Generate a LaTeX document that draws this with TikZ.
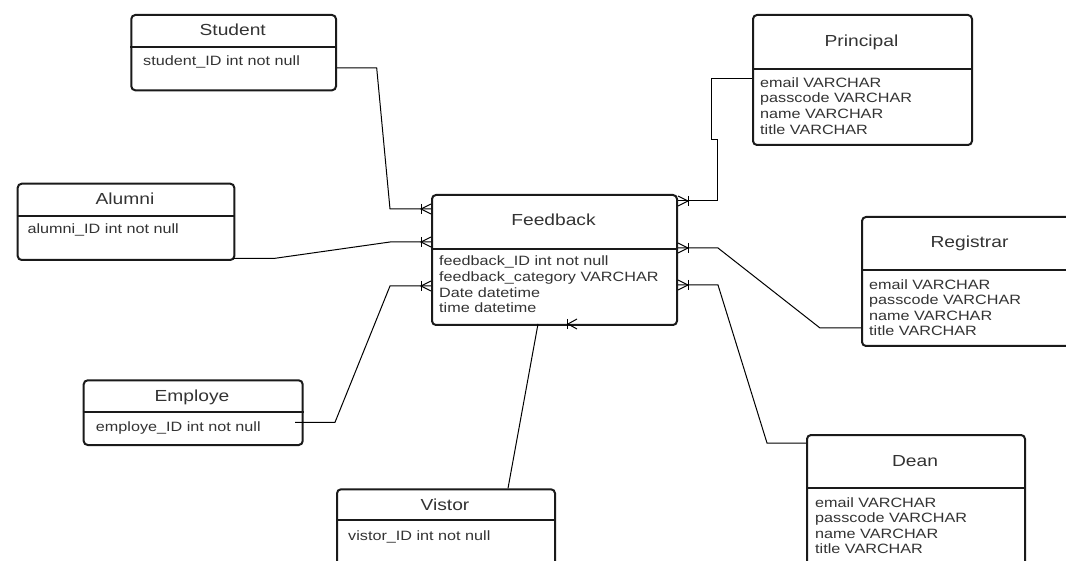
\documentclass[tikz,border=0pt]{standalone}
\usepackage{fontspec}
\usepackage{graphicx}
\setmainfont{Liberation Sans}
\usetikzlibrary{calc}
\definecolor{txt}{HTML}{333333}
\definecolor{edge}{HTML}{1A1A1A}
\newcommand{\hs}[1]{\scalebox{1.2}[1]{#1}}
\tikzset{
  entbox/.style={draw=edge, line width=2pt, rounded corners=4pt, inner sep=0pt, anchor=north west},
  divider/.style={draw=edge, line width=2pt},
  ttl/.style={anchor=base, inner sep=0pt, text=txt, font=\fontsize{16}{19}\selectfont},
  attr/.style={anchor=base west, inner sep=0pt, text=txt, font=\fontsize{13.5}{15.5}\selectfont},
  conn/.style={draw=black, line width=1pt},
  crowL/.pic={\draw[conn] (-10,-5) -- (-10,5); \draw[conn] (0,-5) -- (-10,0) -- (0,5);},
  crowR/.pic={\draw[conn] (10,-5) -- (10,5); \draw[conn] (0,-5) -- (10,0) -- (0,5);},
  crowB/.pic={\draw[conn] (-1,-5) -- (-1,5); \draw[conn] (9,-5) -- (0,0) -- (9,5);}
}
\begin{document}
\begin{tikzpicture}[x=1pt, y=-1pt]
\useasboundingbox (0,0) rectangle (1066,561);
\clip (0,0) rectangle (1066,561);
\fill[white] (0,0) rectangle (1066,561);

% ---------- Student ----------
\node[entbox, minimum width=204.7pt, minimum height=75.3pt] (student) at (130.3,14) {};
\draw[divider] (student.west |- 0,46.7) -- (student.east |- 0,46.7);
\node[ttl] (student-t) at (232.7,36) {\hs{Student}};
\node[attr] (student-a1) at (143,65.7) {\hs{student\_ID int not null}};

% ---------- Alumni ----------
\node[entbox, minimum width=216.6pt, minimum height=76.3pt] (alumni) at (16.7,182.7) {};
\draw[divider] (alumni.west |- 0,216) -- (alumni.east |- 0,216);
\node[ttl] (alumni-t) at (125,205) {\hs{Alumni}};
\node[attr] (alumni-a1) at (27.3,234) {\hs{alumni\_ID int not null}};

% ---------- Feedback ----------
\node[entbox, minimum width=245pt, minimum height=130pt] (fb) at (431,194) {};
\draw[divider] (fb.west |- 0,248.7) -- (fb.east |- 0,248.7);
\node[ttl] (fb-t) at (553.5,226) {\hs{Feedback}};
\node[attr] (fb-a1) at (439,266) {\hs{feedback\_ID int not null}};
\node[attr] (fb-a2) at (439,281.7) {\hs{feedback\_category VARCHAR}};
\node[attr] (fb-a3) at (439,297.4) {\hs{Date datetime}};
\node[attr] (fb-a4) at (439,313) {\hs{time datetime}};

% ---------- Principal ----------
\node[entbox, minimum width=219pt, minimum height=130pt] (principal) at (752,14) {};
\draw[divider] (principal.west |- 0,69) -- (principal.east |- 0,69);
\node[ttl] (principal-t) at (861.5,46.5) {\hs{Principal}};
\node[attr] (principal-a1) at (760,87.3) {\hs{email VARCHAR}};
\node[attr] (principal-a2) at (760,103) {\hs{passcode VARCHAR}};
\node[attr] (principal-a3) at (760,118.6) {\hs{name VARCHAR}};
\node[attr] (principal-a4) at (760,134.2) {\hs{title VARCHAR}};

% ---------- Registrar ----------
\node[entbox, minimum width=217pt, minimum height=129pt] (registrar) at (861,216) {};
\draw[divider] (registrar.west |- 0,270) -- (registrar.east |- 0,270);
\node[ttl] (registrar-t) at (969.5,248) {\hs{Registrar}};
\node[attr] (registrar-a1) at (869,289.3) {\hs{email VARCHAR}};
\node[attr] (registrar-a2) at (869,305) {\hs{passcode VARCHAR}};
\node[attr] (registrar-a3) at (869,320.5) {\hs{name VARCHAR}};
\node[attr] (registrar-a4) at (869,336) {\hs{title VARCHAR}};

% ---------- Employe ----------
\node[entbox, minimum width=219pt, minimum height=64.7pt] (employe) at (82.7,379.3) {};
\draw[divider] (employe.west |- 0,411.7) -- (employe.east |- 0,411.7);
\node[ttl] (employe-t) at (192,401) {\hs{Employe}};
\node[attr] (employe-a1) at (95.7,431.7) {\hs{employe\_ID int not null}};

% ---------- Vistor ----------
\node[entbox, minimum width=218pt, minimum height=92pt] (vistor) at (336,488.3) {};
\draw[divider] (vistor.west |- 0,520) -- (vistor.east |- 0,520);
\node[ttl] (vistor-t) at (445,510) {\hs{Vistor}};
\node[attr] (vistor-a1) at (348,540) {\hs{vistor\_ID int not null}};

% ---------- Dean ----------
\node[entbox, minimum width=218pt, minimum height=141pt] (dean) at (806,434) {};
\draw[divider] (dean.west |- 0,488) -- (dean.east |- 0,488);
\node[ttl] (dean-t) at (915,466) {\hs{Dean}};
\node[attr] (dean-a1) at (815,507.3) {\hs{email VARCHAR}};
\node[attr] (dean-a2) at (815,522.7) {\hs{passcode VARCHAR}};
\node[attr] (dean-a3) at (815,538.5) {\hs{name VARCHAR}};
\node[attr] (dean-a4) at (815,553.3) {\hs{title VARCHAR}};

% ---------- connection points ----------
\coordinate (fl1) at (fb.west |- 0,209);
\coordinate (fl2) at (fb.west |- 0,242);
\coordinate (fl3) at (fb.west |- 0,286);
\coordinate (fr1) at (fb.east |- 0,201);
\coordinate (fr2) at (fb.east |- 0,248);
\coordinate (fr3) at (fb.east |- 0,285);
\coordinate (fb1) at (538,324);
\coordinate (fbm) at (568,324);
\coordinate (es) at (student.east |- 0,68);
\coordinate (ea) at (233.3,258.3);
\coordinate (ee) at (295,422.3);
\coordinate (ev) at (508,488.3);
\coordinate (ep) at (principal.west |- 0,79);
\coordinate (er) at (registrar.west |- 0,328);
\coordinate (ed) at (dean.west |- 0,443);

% ---------- connectors ----------
\draw[conn] (es) -- (376.7,68) -- (390,209) -- (fl1);
\draw[conn] (ea) -- (275,258.3) -- (390,242) -- (fl2);
\draw[conn] (ee) -- (335,422.3) -- (390,286) -- (fl3);
\draw[conn] (ev) -- (fb1);
\draw[conn] (ep) -- (711,79) -- (711,140) -- (717,140) -- (717,201) -- (fr1);
\draw[conn] (er) -- (820,328) -- (718,248) -- (fr2);
\draw[conn] (ed) -- (767,443) -- (718,285) -- (fr3);

% ---------- crow's feet ----------
\pic at (fl1) {crowL};
\pic at (fl2) {crowL};
\pic at (fl3) {crowL};
\pic at (fr1) {crowR};
\pic at (fr2) {crowR};
\pic at (fr3) {crowR};
\pic at (fbm) {crowB};
\end{tikzpicture}
\end{document}
